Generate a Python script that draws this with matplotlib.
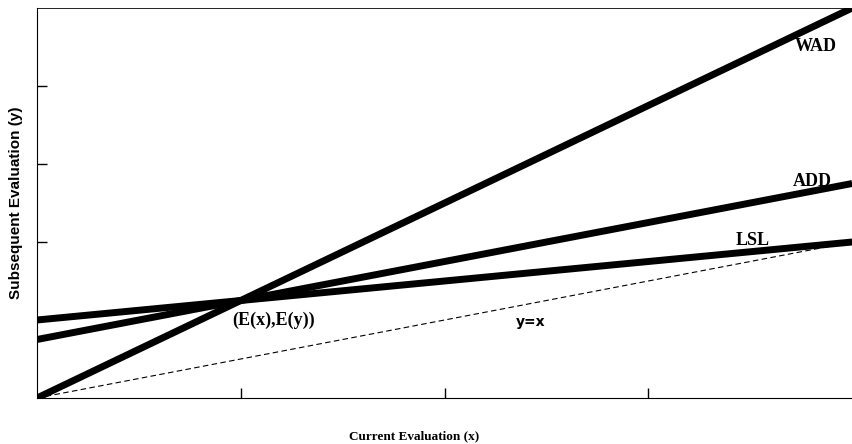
import numpy as np
import matplotlib.pyplot as plt

# line endpoints (x from 0 to 4, y from 0 to 10)
x_end = [0.0, 4.0]
wad = [0.0, 10.0]
add = [1.5, 5.5]
lsl = [2.0, 4.0]
diag_x = [0.0, 3.9]
diag_y = [0.0, 3.9]
meet = (1.0, 2.5)

fig = plt.figure(figsize=(8.53, 4.44), dpi=100)
ax = fig.add_axes([37 / 853, 1 - 398 / 444, 1 - 37 / 853 - 0.001, 390 / 444])

ax.plot(x_end, wad, color="black", lw=5, solid_capstyle="butt")
ax.plot(x_end, add, color="black", lw=5, solid_capstyle="butt")
ax.plot(x_end, lsl, color="black", lw=5, solid_capstyle="butt")
ax.plot(diag_x, diag_y, color="black", lw=0.8, ls=(0, (5, 3)))

serif = dict(family="Liberation Serif", fontsize=13, fontweight="bold")
ax.text(3.72, 9.0, "WAD", ha="left", va="center", **serif)
ax.text(3.71, 5.55, "ADD", ha="left", va="center", **serif)
ax.text(3.43, 4.05, "LSL", ha="left", va="center", **serif)
ax.text(meet[0] - 0.04, 2.0, "(E(x),E(y))", ha="left", va="center", **serif)
ax.text(2.35, 1.95, "y=x", ha="left", va="center",
        family="DejaVu Sans", fontsize=10, fontweight="bold")

ax.set_xlim(0, 4)
ax.set_ylim(0, 10)
ax.set_xticks([1, 2, 3])
ax.set_yticks([2, 4, 6, 8])
ax.tick_params(direction="in", length=7, width=1, labelbottom=False, labelleft=False)
ax.spines["top"].set_linewidth(0.6)
ax.spines["right"].set_visible(False)

fig.text(414 / 853, 1 - 436 / 444, "Current Evaluation (x)", family="Liberation Serif",
         fontsize=9.5, fontweight="bold", ha="center", va="center")
ax.set_ylabel("Subsequent Evaluation (y)", family="Liberation Sans",
              fontsize=11, fontweight="bold", labelpad=10)

fig.savefig("out.png", dpi=100)
